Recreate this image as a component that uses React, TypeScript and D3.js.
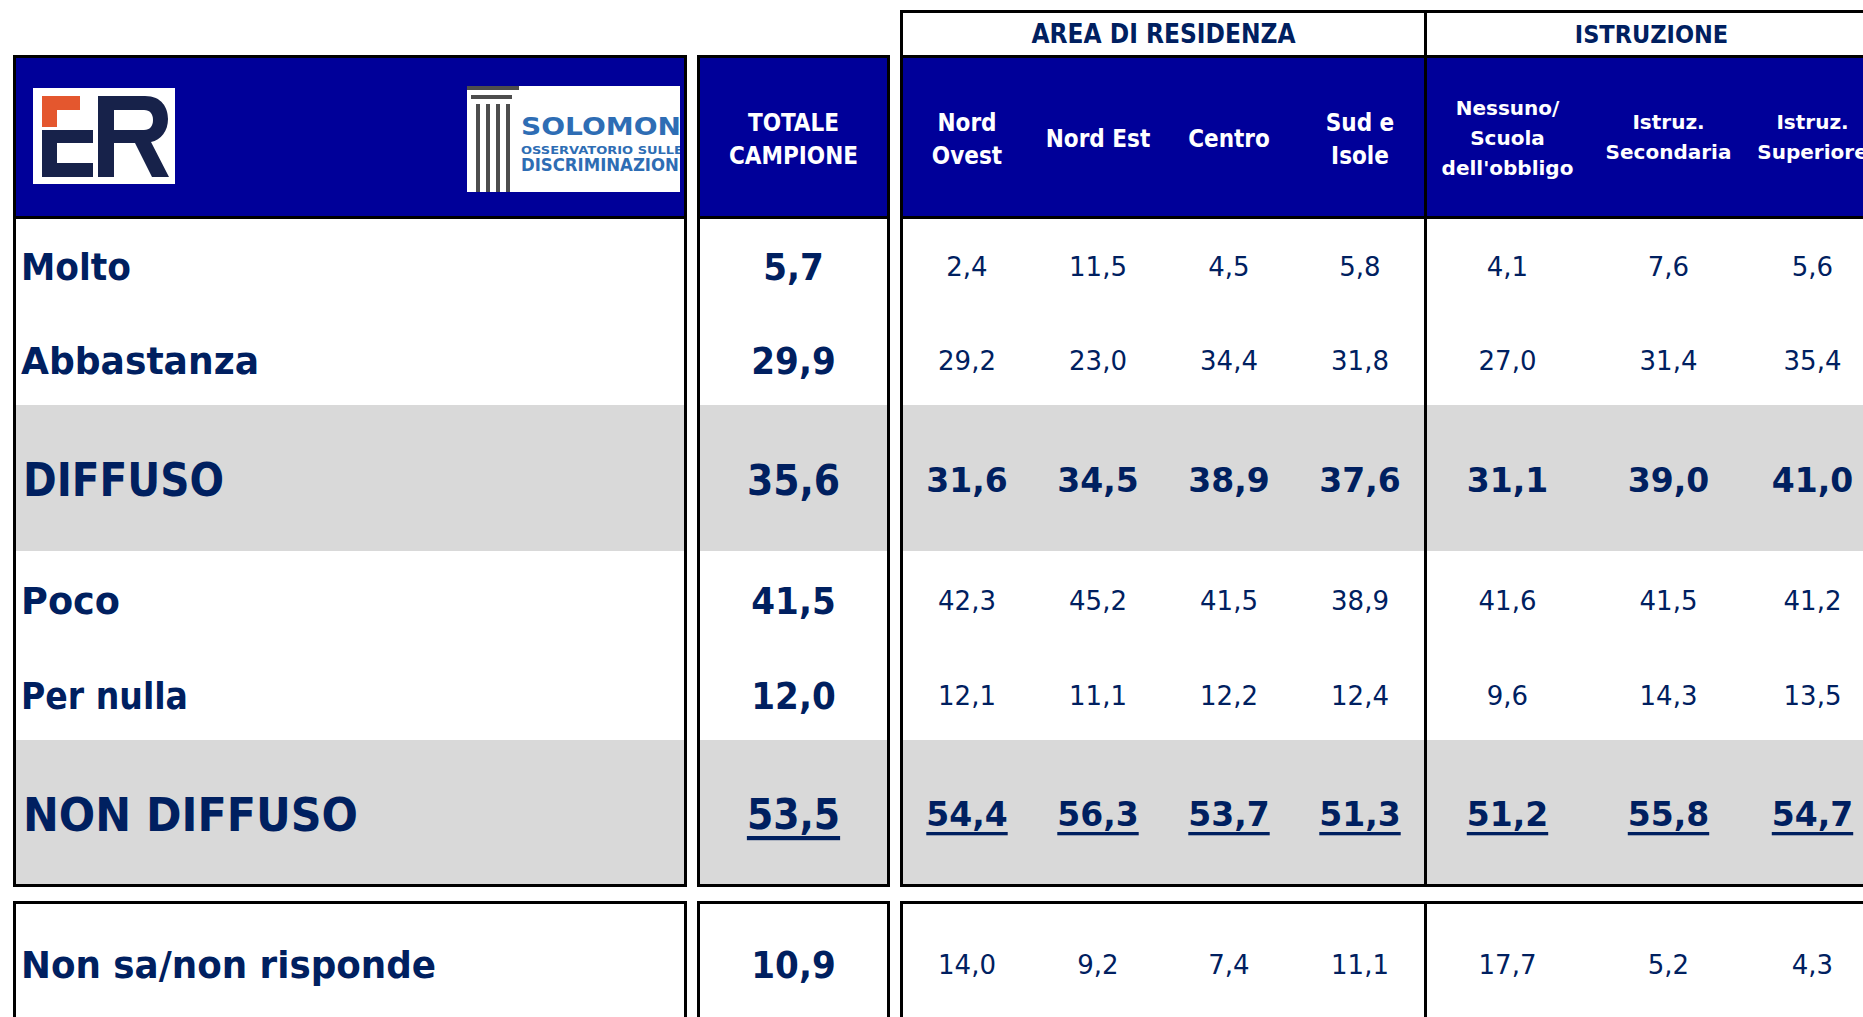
import React from 'react';
import * as d3 from 'd3';

// righe della tabella
const rowLabels = ['Molto', 'Abbastanza', 'DIFFUSO', 'Poco', 'Per nulla', 'NON DIFFUSO'];
const extraLabel = 'Non sa/non risponde';
const summaryRows = [2, 5];

// intestazioni
const totaleHeader = ['TOTALE', 'CAMPIONE'];
const areaGroup = 'AREA DI RESIDENZA';
const istruzioneGroup = 'ISTRUZIONE';
const areaCategories = [['Nord', 'Ovest'], ['Nord Est'], ['Centro'], ['Sud e', 'Isole']];
const istruzioneCategories = [['Nessuno/', 'Scuola', "dell'obbligo"], ['Istruz.', 'Secondaria'], ['Istruz.', 'Superiore']];

// valori (%): Molto, Abbastanza, DIFFUSO, Poco, Per nulla, NON DIFFUSO, Non sa
const totale = [5.7, 29.9, 35.6, 41.5, 12.0, 53.5, 10.9];
const nordOvest = [2.4, 29.2, 31.6, 42.3, 12.1, 54.4, 14.0];
const nordEst = [11.5, 23.0, 34.5, 45.2, 11.1, 56.3, 9.2];
const centro = [4.5, 34.4, 38.9, 41.5, 12.2, 53.7, 7.4];
const sudIsole = [5.8, 31.8, 37.6, 38.9, 12.4, 51.3, 11.1];
const nessuno = [4.1, 27.0, 31.1, 41.6, 9.6, 51.2, 17.7];
const secondaria = [7.6, 31.4, 39.0, 41.5, 14.3, 55.8, 5.2];
const superiore = [5.6, 35.4, 41.0, 41.2, 13.5, 54.7, 4.3];

const areaValues = [nordOvest, nordEst, centro, sudIsole];
const istruzioneValues = [nessuno, secondaria, superiore];

const W = 1863;
const H = 1017;
const BLUE = '#000099';
const NAVY = '#002060';
const GRAY = '#d9d9d9';
const FONT = "'DejaVu Sans', sans-serif";
const FONT_C = "'DejaVu Sans Condensed', 'DejaVu Sans', sans-serif";

const fmt = (v: number) => d3.format('.1f')(v).replace('.', ',');

// layout
const headTop = 58;
const headBottom = 217.5;
const rowHeights = [94.5, 93, 146, 96, 93, 145];
const rowEdges = [headBottom, ...Array.from(d3.cumsum(rowHeights), (d) => headBottom + d)];
const rowCenter = (i: number) => (rowEdges[i] + rowEdges[i + 1]) / 2 + 2;
const bottomTop = 902.5;
const extraCenter = 965;

const leftBlock = [14.5, 685.5];
const totBlock = [698.5, 888.5];
const rightBlock = [901.5, 1900];
const divider = 1425.5;

const xArea = d3.scaleBand<number>().domain(d3.range(areaCategories.length)).range([rightBlock[0], divider]);
const istrWidths = [164, 158, 130];
const istrEdges = [divider, ...Array.from(d3.cumsum(istrWidths), (d) => divider + d)];
const xIstr = d3.scaleOrdinal<number, number>()
  .domain(d3.range(istruzioneCategories.length))
  .range(d3.range(istruzioneCategories.length).map((i) => (istrEdges[i] + istrEdges[i + 1]) / 2));
const xTot = (totBlock[0] + totBlock[1]) / 2;

const labelWidths = [110, 238, 201, 99, 167, 335];

function HeaderLines({ x, lines, y0, step, size, condensed }: { x: number; lines: string[]; y0: number; step: number; size: number; condensed?: boolean }) {
  return (
    <g>
      {lines.map((l, i) => (
        <text key={i} x={x} y={y0 + i * step} textAnchor="middle" dominantBaseline="central"
          fill="#fff" fontWeight="bold" fontSize={size} fontFamily={condensed ? FONT_C : FONT}
          style={condensed ? { fontStretch: 'condensed' } : undefined}>{l}</text>
      ))}
    </g>
  );
}

function ValueCell({ x, y, v, row }: { x: number; y: number; v: number; row: number }) {
  const summary = summaryRows.includes(row);
  return (
    <text x={x} y={y} textAnchor="middle" dominantBaseline="central" fill={NAVY}
      fontFamily={FONT} fontWeight={summary ? 'bold' : 'normal'} fontSize={summary ? 33 : 26}
      style={row === 5 ? { textDecoration: 'underline' } : undefined}>{fmt(v)}</text>
  );
}

function ErLogo() {
  const orange = '#e4572e';
  const dark = '#17224a';
  return (
    <g>
      <rect x={33} y={88} width={142} height={96} fill="#fff" />
      <path d={`M42,96 H80 V110 H57 V127 H42 Z`} fill={orange} />
      <path d={`M42,130 H93 V143 H57 V163 H93 V177 H42 Z`} fill={dark} />
      <path d={`M98,96 H145 C162,96 168,108 168,119 C168,131 161,140 151,142 L169,177 H152 L135,143 H114 V177 H98 Z M114,110 V130 H144 C150,130 153,126 153,120 C153,114 150,110 144,110 Z`} fill={dark} fillRule="evenodd" />
    </g>
  );
}

function SolomonLogo() {
  const pillarX = d3.range(4).map((i) => 476 + i * 10);
  return (
    <g>
      <defs>
        <clipPath id="solClip"><rect x={467} y={86} width={213} height={106} /></clipPath>
      </defs>
      <rect x={467} y={86} width={213} height={106} fill="#fff" />
      <g clipPath="url(#solClip)">
        <rect x={466} y={85} width={53} height={5} fill="#4d4d4d" />
        <rect x={471} y={95} width={41} height={4} fill="#4d4d4d" />
        {pillarX.map((x) => <rect key={x} x={x} y={104} width={4} height={90} fill="#4d4d4d" />)}
        <text x={521} y={135} fontFamily={FONT} fontWeight="bold" fontSize={25} fill="#2e6db4" textLength={160} lengthAdjust="spacingAndGlyphs">SOLOMON</text>
        <text x={521} y={154} fontFamily={FONT} fontWeight="bold" fontSize={11} fill="#2e6db4" textLength={162} lengthAdjust="spacingAndGlyphs">OSSERVATORIO SULLE</text>
        <text x={521} y={171} fontFamily={FONT} fontWeight="bold" fontSize={17} fill="#2e6db4" textLength={164} lengthAdjust="spacingAndGlyphs">DISCRIMINAZIONI</text>
      </g>
    </g>
  );
}

export default function App() {
  const blocks = [leftBlock, totBlock, rightBlock];
  return (
    <svg width={W} height={H} style={{ position: 'absolute', left: 0, top: 0, background: '#fff' }}>
      {/* fasce grigie e intestazioni blu */}
      {blocks.map((b, k) => (
        <g key={k}>
          <rect x={b[0]} y={headTop - 1.5} width={b[1] - b[0]} height={headBottom - headTop + 1.5} fill={BLUE} />
          {summaryRows.map((r) => (
            <rect key={r} x={b[0]} y={rowEdges[r]} width={b[1] - b[0]} height={rowHeights[r]} fill={GRAY} />
          ))}
        </g>
      ))}

      {/* bordi */}
      {blocks.map((b, k) => (
        <g key={'b' + k} fill="none" stroke="#000" strokeWidth={3}>
          <rect x={b[0]} y={56.5} width={b[1] - b[0]} height={885.5 - 56.5} />
          <line x1={b[0]} x2={b[1]} y1={headBottom} y2={headBottom} />
          <rect x={b[0]} y={bottomTop} width={b[1] - b[0]} height={200} />
        </g>
      ))}
      <g fill="none" stroke="#000" strokeWidth={3}>
        <rect x={rightBlock[0]} y={11.5} width={rightBlock[1] - rightBlock[0]} height={45} />
        <line x1={divider} x2={divider} y1={11.5} y2={885.5} />
        <line x1={divider} x2={divider} y1={bottomTop} y2={H + 10} />
      </g>

      {/* loghi */}
      <ErLogo />
      <SolomonLogo />

      {/* intestazioni di gruppo */}
      <text x={(rightBlock[0] + divider) / 2} y={34} textAnchor="middle" dominantBaseline="central" fill={NAVY}
        fontFamily={FONT_C} fontWeight="bold" fontSize={26} style={{ fontStretch: 'condensed' }}>{areaGroup}</text>
      <text x={(istrEdges[0] + istrEdges[3]) / 2} y={34} textAnchor="middle" dominantBaseline="central" fill={NAVY}
        fontFamily={FONT_C} fontWeight="bold" fontSize={25} style={{ fontStretch: 'condensed' }}>{istruzioneGroup}</text>

      {/* intestazioni di colonna */}
      <HeaderLines x={xTot} lines={totaleHeader} y0={123} step={33} size={24} condensed />
      {areaCategories.map((c, i) => (
        <HeaderLines key={i} x={xArea(i)! + xArea.bandwidth() / 2} lines={c}
          y0={c.length === 1 ? 139 : 123} step={33} size={24} condensed />
      ))}
      {istruzioneCategories.map((c, i) => (
        <HeaderLines key={i} x={xIstr(i)} lines={c}
          y0={c.length === 3 ? 108 : 122} step={30} size={20} />
      ))}

      {/* etichette di riga */}
      {rowLabels.map((l, i) => {
        const summary = summaryRows.includes(i);
        return (
          <text key={l} x={summary ? 23 : 21} y={rowCenter(i)} dominantBaseline="central" fill={NAVY}
            fontFamily={FONT} fontWeight="bold" fontSize={summary ? 46 : 38}
            textLength={labelWidths[i]} lengthAdjust="spacingAndGlyphs">{l}</text>
        );
      })}
      <text x={21} y={extraCenter} dominantBaseline="central" fill={NAVY} fontFamily={FONT} fontWeight="bold"
        fontSize={38} textLength={415} lengthAdjust="spacingAndGlyphs">{extraLabel}</text>

      {/* totale campione */}
      {totale.map((v, i) => {
        const y = i < rowLabels.length ? rowCenter(i) : extraCenter;
        const big = summaryRows.includes(i);
        return (
          <text key={i} x={xTot} y={y} textAnchor="middle" dominantBaseline="central" fill={NAVY}
            fontFamily={FONT_C} fontWeight="bold" fontSize={big ? 42 : 38}
            style={{ fontStretch: 'condensed', textDecoration: i === 5 ? 'underline' : 'none' }}>{fmt(v)}</text>
        );
      })}

      {/* valori per area e istruzione */}
      {areaValues.map((vals, c) => vals.map((v, i) => (
        <ValueCell key={`a${c}-${i}`} x={xArea(c)! + xArea.bandwidth() / 2}
          y={i < rowLabels.length ? rowCenter(i) : extraCenter} v={v} row={i} />
      )))}
      {istruzioneValues.map((vals, c) => vals.map((v, i) => (
        <ValueCell key={`i${c}-${i}`} x={xIstr(c)}
          y={i < rowLabels.length ? rowCenter(i) : extraCenter} v={v} row={i} />
      )))}
    </svg>
  );
}
